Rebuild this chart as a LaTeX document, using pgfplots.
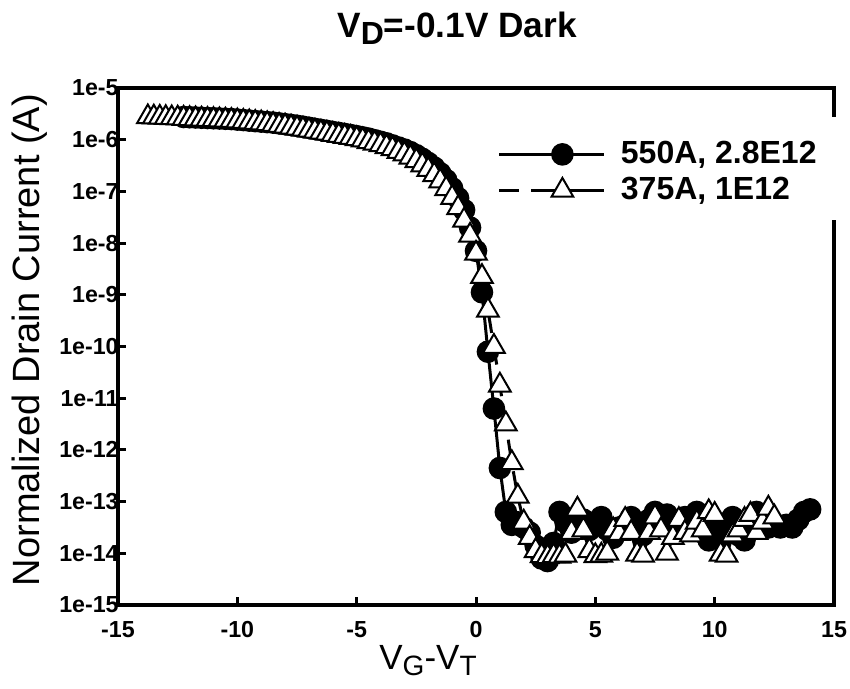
\documentclass[border=0pt]{standalone}
\usepackage{fontspec}
\setmainfont{Liberation Sans}
\usepackage{pgfplots}
\pgfplotsset{compat=1.18}

\pgfplotstableread{
V I
-12.25 2.75e-6
-12.00 2.72e-6
-11.75 2.69e-6
-11.50 2.66e-6
-11.25 2.63e-6
-11.00 2.60e-6
-10.75 2.57e-6
-10.50 2.54e-6
-10.25 2.51e-6
-10.00 2.45e-6
-9.75 2.40e-6
-9.50 2.34e-6
-9.25 2.29e-6
-9.00 2.24e-6
-8.75 2.19e-6
-8.50 2.14e-6
-8.25 2.07e-6
-8.00 2.00e-6
-7.75 1.93e-6
-7.50 1.86e-6
-7.25 1.78e-6
-7.00 1.70e-6
-6.75 1.62e-6
-6.50 1.55e-6
-6.25 1.48e-6
-6.00 1.41e-6
-5.75 1.35e-6
-5.50 1.29e-6
-5.25 1.23e-6
-5.00 1.17e-6
-4.75 1.11e-6
-4.50 1.05e-6
-4.25 9.77e-7
-4.00 9.12e-7
-3.75 8.51e-7
-3.50 7.76e-7
-3.25 7.08e-7
-3.00 6.46e-7
-2.75 5.75e-7
-2.50 5.01e-7
-2.25 4.27e-7
-2.00 3.55e-7
-1.75 2.88e-7
-1.50 2.24e-7
-1.25 1.66e-7
-1.00 1.15e-7
-0.75 7.41e-8
-0.50 4.37e-8
-0.25 2.00e-8
0.00 7.08e-9
0.25 1.12e-9
0.50 7.94e-11
0.75 6.31e-12
1.00 4.47e-13
1.25 6.31e-14
1.50 3.55e-14
1.75 3.98e-14
2.00 3.16e-14
2.25 2.51e-14
2.50 1.41e-14
2.75 7.94e-15
3.00 7.08e-15
3.25 1.585e-14
3.50 6.31e-14
3.75 3.98e-14
4.00 2.51e-14
4.25 3.55e-14
4.50 4.47e-14
4.75 2.82e-14
5.00 3.98e-14
5.25 5.01e-14
5.50 2.82e-14
5.75 2.00e-14
6.00 3.16e-14
6.25 3.55e-14
6.50 5.01e-14
6.75 2.82e-14
7.00 2.24e-14
7.25 4.47e-14
7.50 6.31e-14
7.75 3.98e-14
8.00 5.62e-14
8.25 2.82e-14
8.50 3.55e-14
8.75 5.01e-14
9.00 4.47e-14
9.25 6.31e-14
9.50 2.51e-14
9.75 1.78e-14
10.00 2.82e-14
10.25 2.00e-14
10.50 3.55e-14
10.75 5.01e-14
11.00 2.24e-14
11.25 1.78e-14
11.50 2.82e-14
11.75 6.31e-14
12.00 3.98e-14
12.25 3.16e-14
12.50 3.55e-14
12.75 3.16e-14
13.00 3.55e-14
13.25 3.16e-14
13.50 4.47e-14
13.75 6.31e-14
14.00 7.08e-14
}\seriesA

\pgfplotstableread{
V I
-13.75 2.75e-6
-13.50 2.72e-6
-13.25 2.69e-6
-13.00 2.66e-6
-12.75 2.63e-6
-12.50 2.60e-6
-12.25 2.57e-6
-12.00 2.54e-6
-11.75 2.51e-6
-11.50 2.48e-6
-11.25 2.45e-6
-11.00 2.43e-6
-10.75 2.40e-6
-10.50 2.37e-6
-10.25 2.34e-6
-10.00 2.29e-6
-9.75 2.24e-6
-9.50 2.19e-6
-9.25 2.14e-6
-9.00 2.09e-6
-8.75 2.02e-6
-8.50 1.95e-6
-8.25 1.88e-6
-8.00 1.82e-6
-7.75 1.74e-6
-7.50 1.66e-6
-7.25 1.585e-6
-7.00 1.51e-6
-6.75 1.45e-6
-6.50 1.38e-6
-6.25 1.32e-6
-6.00 1.26e-6
-5.75 1.20e-6
-5.50 1.15e-6
-5.25 1.10e-6
-5.00 1.035e-6
-4.75 9.77e-7
-4.50 9.12e-7
-4.25 8.51e-7
-4.00 7.94e-7
-3.75 7.24e-7
-3.50 6.61e-7
-3.25 5.89e-7
-3.00 5.25e-7
-2.75 4.57e-7
-2.50 3.89e-7
-2.25 3.24e-7
-2.00 2.63e-7
-1.75 2.09e-7
-1.50 1.585e-7
-1.25 1.12e-7
-1.00 7.59e-8
-0.75 4.79e-8
-0.50 2.75e-8
-0.25 1.41e-8
0.00 6.31e-9
0.25 2.24e-9
0.50 5.01e-10
0.75 1.00e-10
1.00 1.78e-11
1.25 3.16e-12
1.50 5.62e-13
1.75 1.26e-13
2.00 3.98e-14
2.25 2.00e-14
2.50 1.12e-14
2.75 8.91e-15
3.00 8.51e-15
3.25 8.91e-15
3.50 8.71e-15
3.75 9.12e-15
4.00 2.51e-14
4.25 7.08e-14
4.50 2.82e-14
4.75 1.12e-14
5.00 8.91e-15
5.25 9.12e-15
5.50 1.00e-14
5.75 2.82e-14
6.00 2.40e-14
6.25 4.47e-14
6.50 2.51e-14
6.75 9.55e-15
7.00 9.12e-15
7.25 2.51e-14
7.50 5.01e-14
7.75 2.82e-14
8.00 1.00e-14
8.25 2.00e-14
8.50 4.47e-14
8.75 2.51e-14
9.00 2.24e-14
9.25 3.98e-14
9.50 2.82e-14
9.75 6.31e-14
10.00 5.62e-14
10.25 9.55e-15
10.50 9.12e-15
10.75 2.24e-14
11.00 2.82e-14
11.25 4.47e-14
11.50 5.62e-14
11.75 2.51e-14
12.00 3.98e-14
12.25 7.41e-14
12.50 5.01e-14
}\seriesB

\begin{document}
\begin{tikzpicture}[x=1pt,y=1pt]
\useasboundingbox (0,0) rectangle (425,344.5);
\begin{axis}[
  at={(59pt,42pt)}, anchor=south west,
  scale only axis, width=358pt, height=258.5pt,
  xmin=-15, xmax=15,
  ymode=log, ymin=1e-15, ymax=1e-5,
  xtick={-15,-10,-5,0,5,10,15},
  xticklabels={-15,-10,-5,0,5,10,15},
  ytick={1e-15,1e-14,1e-13,1e-12,1e-11,1e-10,1e-9,1e-8,1e-7,1e-6,1e-5},
  yticklabels={1e-15,1e-14,1e-13,1e-12,1e-11,1e-10,1e-9,1e-8,1e-7,1e-6,1e-5},
  xtick pos=bottom, ytick pos=left,
  tick align=inside,
  major tick length=4pt,
  yminorticks=false, xminorticks=false,
  every tick/.style={line width=1.5pt, black},
  axis line style={draw=none},
  ticklabel style={font=\fontsize{11.6}{11.6}\selectfont\bfseries},
  xticklabel style={inner sep=1pt, yshift=-7pt},
  yticklabel style={inner sep=1pt, xshift=1.5pt},
  /pgf/number format/assume math mode=true,
  clip mode=individual,
  legend cell align=left,
  legend style={at={(rel axis cs:1.0098,0.9246)}, anchor=north east,
    fill=none, draw=none, inner xsep=11pt, inner ysep=5pt,
    font=\fontsize{16}{16}\selectfont\bfseries,
    nodes={inner sep=1pt, text height=12pt, text depth=3pt},
    row sep=1pt},
  legend image code/.code={
    \draw[mark repeat=2,mark phase=2,#1] plot coordinates {(0pt,0pt) (31.5pt,0pt) (52.5pt,0pt)};
    \path (59pt,0pt);
  },
]
\draw[line width=2pt, line join=miter, line cap=rect]
  (rel axis cs:1,0.9478) -- (rel axis cs:1,1) -- (rel axis cs:0,1)
  -- (rel axis cs:0,0) -- (rel axis cs:1,0) -- (rel axis cs:1,0.7408);
\addplot[black, line width=1.5pt, mark=*, mark size=5.25pt,
  mark options={solid, fill=black, draw=black, line width=0.8pt}]
  table[x=V, y=I] {\seriesA};
\addlegendentry{550A, 2.8E12}
\addplot[black, line width=1.5pt, dash pattern=on 10pt off 6pt, mark=triangle*, mark size=6.25pt,
  mark options={solid, fill=white, draw=black, line width=1pt},
  legend image post style={dash pattern=on 10pt off 6pt on 40pt off 0pt}]
  table[x=V, y=I] {\seriesB};
\addlegendentry{375A, 1E12}
\end{axis}
\node[anchor=base] at (228.5,325.5)
  {\fontsize{17.6}{17.6}\selectfont\bfseries V\raisebox{-3.5pt}{\fontsize{16}{16}\selectfont D}=-0.1V Dark};
\node[anchor=base] at (214,9.5)
  {\fontsize{17.5}{17.5}\selectfont V\raisebox{-3pt}{\fontsize{14}{14}\selectfont G}-V\raisebox{-3pt}{\fontsize{14}{14}\selectfont T}};
\node[rotate=90] at (15,174.5)
  {\fontsize{19}{19}\selectfont Normalized Drain Current (A)};
\end{tikzpicture}
\end{document}
